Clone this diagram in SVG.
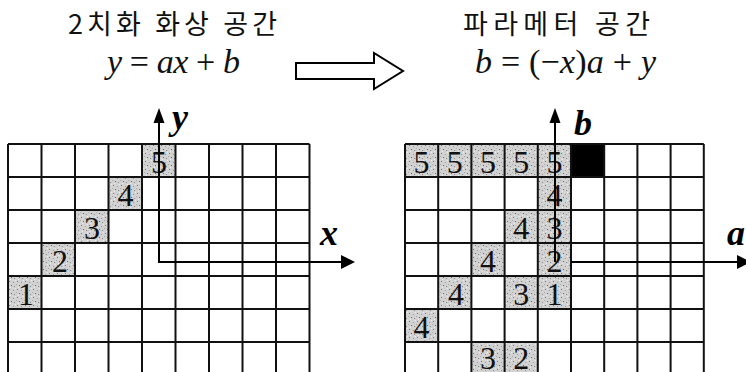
<svg xmlns="http://www.w3.org/2000/svg" width="746" height="372" viewBox="0 0 746 372">
<style>
.title{font-family:"Noto Sans CJK KR","Noto Sans",sans-serif;font-size:27px;fill:#111}
.eq{font-family:"Liberation Serif",serif;font-style:italic;font-size:34px;fill:#111}
.op{font-style:normal}
.ax{font-family:"Liberation Serif",serif;font-style:italic;font-weight:bold;font-size:36px;fill:#000}
.num{font-family:"Liberation Serif",serif;font-size:32px;fill:#111;text-anchor:middle}
.grid{fill:none;stroke:#111;stroke-width:2}
.shade{fill:url(#speck)}
.axis{fill:none;stroke:#000;stroke-width:2}
.head{fill:#000}
</style>
<defs>
<pattern id="speck" width="8" height="8" patternUnits="userSpaceOnUse">
<rect width="8" height="8" fill="#d2d2d2"/>
<rect x="1" y="1" width="1" height="1" fill="#777"/>
<rect x="5" y="2" width="1" height="1" fill="#999"/>
<rect x="3" y="5" width="1" height="1" fill="#666"/>
<rect x="6" y="6" width="1" height="1" fill="#888"/>
<rect x="0" y="4" width="1" height="1" fill="#aaa"/>
<rect x="7" y="0" width="1" height="1" fill="#eee"/>
<rect x="2" y="7" width="1" height="1" fill="#eee"/>
</pattern>
</defs>

<g id="titles">
<text class="title" x="68" y="34" textLength="209" lengthAdjust="spacing">2치화 화상 공간</text>
<text class="title" x="463" y="34" textLength="187" lengthAdjust="spacing">파라메터 공간</text>
<text class="eq" x="107" y="73" textLength="133" lengthAdjust="spacing">y<tspan class="op"> = </tspan>ax<tspan class="op"> + </tspan>b</text>
<text class="eq" x="475" y="73" textLength="181" lengthAdjust="spacing">b<tspan class="op"> = (−</tspan>x<tspan class="op">)</tspan>a<tspan class="op"> + </tspan>y</text>
</g>

<g id="image-space">
<g id="image-shaded">
<rect class="shade" x="8" y="276" width="33.5" height="33"/>
<rect class="shade" x="41.5" y="243" width="33.5" height="33"/>
<rect class="shade" x="75" y="210" width="33.5" height="33"/>
<rect class="shade" x="108.5" y="177" width="33.5" height="33"/>
<rect class="shade" x="142" y="144" width="33.5" height="33"/>
</g>
<path class="grid" d="M8,144V375M41.5,144V375M75,144V375M108.5,144V375M142,144V375M175.5,144V375M209,144V375M242.5,144V375M276,144V375M309.5,144V375M8,144H309.5M8,177H309.5M8,210H309.5M8,243H309.5M8,276H309.5M8,309H309.5M8,342H309.5"/>
<g id="image-numbers">
<text class="num" x="26" y="305">1</text>
<text class="num" x="60" y="272">2</text>
<text class="num" x="92" y="239">3</text>
<text class="num" x="125.5" y="206">4</text>
<text class="num" x="159" y="173">5</text>
</g>
</g>

<g id="param-space">
<g id="param-shaded">
<rect class="shade" x="405" y="144" width="33.2" height="33"/>
<rect class="shade" x="438.2" y="144" width="33.2" height="33"/>
<rect class="shade" x="471.4" y="144" width="33.2" height="33"/>
<rect class="shade" x="504.6" y="144" width="33.2" height="33"/>
<rect class="shade" x="537.8" y="144" width="33.2" height="33"/>
<rect x="571" y="144" width="33.2" height="33" fill="#000"/>
<rect class="shade" x="537.8" y="177" width="33.2" height="33"/>
<rect class="shade" x="504.6" y="210" width="33.2" height="33"/>
<rect class="shade" x="537.8" y="210" width="33.2" height="33"/>
<rect class="shade" x="471.4" y="243" width="33.2" height="33"/>
<rect class="shade" x="537.8" y="243" width="33.2" height="33"/>
<rect class="shade" x="438.2" y="276" width="33.2" height="33"/>
<rect class="shade" x="504.6" y="276" width="33.2" height="33"/>
<rect class="shade" x="537.8" y="276" width="33.2" height="33"/>
<rect class="shade" x="405" y="309" width="33.2" height="33"/>
<rect class="shade" x="471.4" y="342" width="33.2" height="33"/>
<rect class="shade" x="504.6" y="342" width="33.2" height="33"/>
</g>
<path class="grid" d="M405,144V375M438.2,144V375M471.4,144V375M504.6,144V375M537.8,144V375M571,144V375M604.2,144V375M637.4,144V375M670.6,144V375M703.8,144V375M405,144H703.8M405,177H703.8M405,210H703.8M405,243H703.8M405,276H703.8M405,309H703.8M405,342H703.8"/>
<g id="param-numbers">
<text class="num" x="421.6" y="173">5</text>
<text class="num" x="454.8" y="173">5</text>
<text class="num" x="488" y="173">5</text>
<text class="num" x="521.2" y="173">5</text>
<text class="num" x="554.4" y="173">5</text>
<text class="num" x="554.4" y="206">4</text>
<text class="num" x="521.2" y="239">4</text>
<text class="num" x="554.4" y="239">3</text>
<text class="num" x="488" y="272">4</text>
<text class="num" x="554.4" y="272">2</text>
<text class="num" x="456" y="305">4</text>
<text class="num" x="521.2" y="305">3</text>
<text class="num" x="554.4" y="305">1</text>
<text class="num" x="421.6" y="338">4</text>
<text class="num" x="488" y="369">3</text>
<text class="num" x="521.2" y="369">2</text>
</g>
</g>

<g id="connectors">
<polygon points="296,63 374,63 374,53 403,71 374,89 374,79 296,79" fill="#fff" stroke="#000" stroke-width="2" stroke-linejoin="miter"/>
<path class="axis" d="M159,120V262H342"/>
<polygon class="head" points="159,108 153.5,123 164.5,123"/>
<polygon class="head" points="355,262 341,255 341,269"/>
<path class="axis" d="M555,120V262M571,262H738"/>
<polygon class="head" points="555,108 549.5,123 560.5,123"/>
<polygon class="head" points="751,262 737,255 737,269"/>
</g>

<g id="axis-labels">
<text class="ax" x="172" y="129">y</text>
<text class="ax" x="574" y="135">b</text>
<text class="ax" x="320" y="245">x</text>
<text class="ax" x="727" y="245">a</text>
</g>
</svg>
